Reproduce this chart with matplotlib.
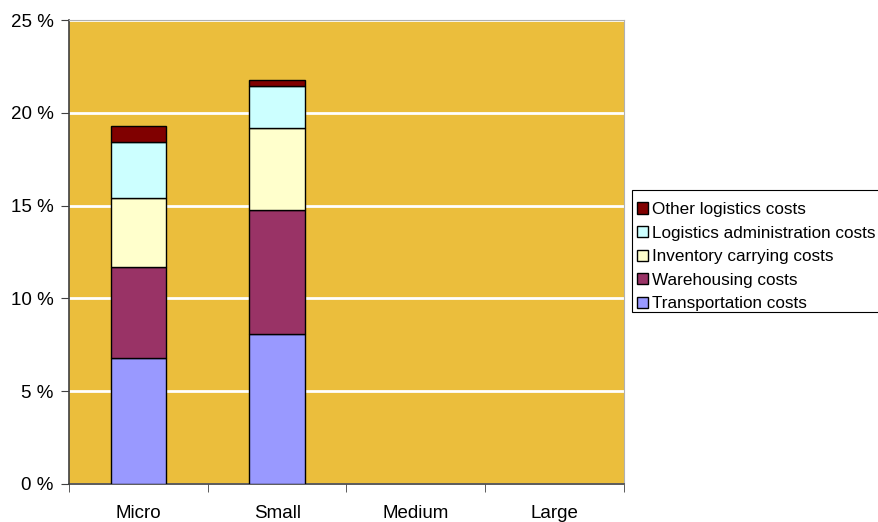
import matplotlib.pyplot as plt
import numpy as np
from matplotlib.patches import Rectangle

plt.rcParams["font.family"] = ["Liberation Sans", "DejaVu Sans"]

categories = ["Micro", "Small", "Medium", "Large"]
series_names = [
    "Transportation costs",
    "Warehousing costs",
    "Inventory carrying costs",
    "Logistics administration costs",
    "Other logistics costs",
]
transportation = [6.79, 8.08, 0.0, 0.0]
warehousing = [4.88, 6.68, 0.0, 0.0]
inventory = [3.76, 4.40, 0.0, 0.0]
administration = [2.98, 2.30, 0.0, 0.0]
other = [0.89, 0.32, 0.0, 0.0]

colors = ["#9999FF", "#993366", "#FFFFCC", "#CCFFFF", "#800000"]
PLOT_BG = "#EBBE3C"

W, H = 879, 522
fig = plt.figure(figsize=(W / 100, H / 100), dpi=100, facecolor="white")
ax = fig.add_axes([69 / W, 1 - 484 / H, (624 - 69) / W, (484 - 20) / H])
ax.set_facecolor(PLOT_BG)

x = np.arange(len(categories))
bottom = np.zeros(len(categories))
handles = []
for name, vals, c in zip(series_names,
                         [transportation, warehousing, inventory, administration, other],
                         colors):
    vals = np.array(vals)
    # empty segments get no outline
    lw = np.where(vals > 0, 1.0, 0.0)
    b = ax.bar(x, vals, width=0.4, bottom=bottom, color=c,
               edgecolor="black", linewidth=lw, label=name, zorder=3)
    handles.append(b)
    bottom += vals

ax.set_xlim(-0.5, len(categories) - 0.5)
ax.set_ylim(0, 25)
ax.set_yticks(np.arange(0, 26, 5))
ax.set_yticklabels([f"{v} %" for v in range(0, 26, 5)])
ax.yaxis.grid(True, color="white", linewidth=2, zorder=1)
ax.set_axisbelow(True)

# category labels centred, ticks on category boundaries
ax.set_xticks(x)
ax.set_xticklabels(categories)
ax.tick_params(axis="x", which="major", length=0, pad=15, labelsize=13.5)
ax.set_xticks(np.arange(-0.5, len(categories), 1), minor=True)
ax.tick_params(axis="x", which="minor", length=6, color="#404040", direction="out")
ax.tick_params(axis="y", length=6, color="#404040", direction="out", labelsize=13.5, pad=5)

for side in ("left", "bottom"):
    ax.spines[side].set_color("#404040")
    ax.spines[side].set_linewidth(1.2)
for side in ("top", "right"):
    ax.spines[side].set_color("#B0B0B0")
    ax.spines[side].set_linewidth(0.8)

# legend box runs off the right edge, so the frame is drawn separately
frame = Rectangle((632 / W, 1 - 312 / H), 260 / W, 122 / H,
                  transform=fig.transFigure, facecolor="white",
                  edgecolor="black", linewidth=0.8)
fig.patches.append(frame)

leg = fig.legend(handles[::-1], series_names[::-1],
                 loc="upper left", bbox_to_anchor=(632 / W, 1 - 197 / H),
                 fontsize=12.3, frameon=False,
                 handlelength=0.65, handleheight=0.65,
                 handletextpad=0.2, labelspacing=0.5, borderpad=0.3,
                 borderaxespad=0)

fig.savefig("out.png", dpi=100, facecolor="white")
